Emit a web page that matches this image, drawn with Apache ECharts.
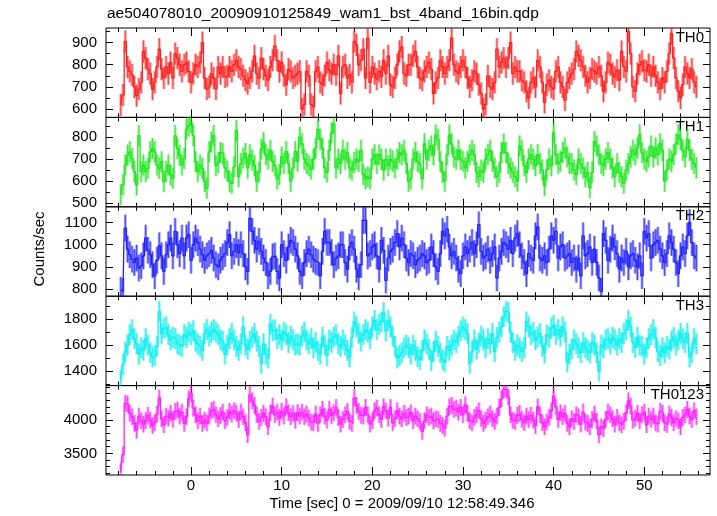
<!DOCTYPE html>
<html>
<head>
<meta charset="utf-8">
<script src="https://cdn.jsdelivr.net/npm/echarts@6/dist/echarts.min.js"></script>
<style>html,body{margin:0;padding:0;background:#fff}#c{width:717px;height:516px}</style>
</head>
<body>
<div id="c"></div>
<script>
// ---- data (counts/sec, 0.25 s bins) ----
const titleText = 'ae504078010_20090910125849_wam1_bst_4band_16bin.qdp';
const xTitle = 'Time [sec] 0 = 2009/09/10 12:58:49.346';
const yTitle = 'Counts/sec';
const panelNames = ['TH0', 'TH1', 'TH2', 'TH3', 'TH0123'];
const binStart = -7.75;   // centre of first bin (s)
const binWidth = 0.25;    // s
const errHalf = [50, 48, 60, 80, 125];

const th0 = [
 618,663,905,790,770,754,700,660,690,720,860,830,780,760,690,720,790,870,780,740,790,760,810,740,850,830,800,770,800,810,770,720,760,800,790,810,900,740,690,700,760,740,
 690,790,760,790,745,750,790,770,800,820,790,780,750,730,715,740,770,840,760,740,830,780,750,730,790,820,885,820,770,810,750,710,780,770,740,750,760,770,600,620,770,750,620,
 610,770,790,720,710,750,810,775,760,800,755,840,670,790,800,740,755,720,905,890,800,820,870,740,920,720,790,760,735,770,745,820,760,840,710,700,740,800,860,880,760,750,800,
 800,840,860,790,740,730,770,790,810,780,670,720,740,820,790,760,790,820,920,800,770,760,790,820,790,740,700,730,770,760,710,670,600,620,750,700,690,720,870,790,810,830,790,
 830,900,760,790,770,770,730,720,680,650,720,740,700,820,790,720,630,710,730,700,690,770,790,720,700,640,720,740,760,780,860,840,820,790,750,720,740,780,770,760,790,750,
 680,720,810,800,760,745,775,730,860,790,770,950,850,700,680,760,800,815,775,770,800,750,790,750,720,690,740,720,770,850,940,830,740,680,650,710,790,760,740,780,720,700
];
const th1 = [
 538,583,673,718,733,703,643,583,807,643,673,643,658,733,748,733,673,658,688,598,643,673,628,613,807,748,718,673,703,837,852,867,807,688,643,673,658,598,568,733,778,807,
 670,685,730,725,660,645,600,590,665,830,620,680,705,725,660,720,695,670,600,640,745,775,720,700,740,690,670,610,630,710,680,735,680,600,660,735,690,800,770,700,680,670,655,
 700,750,835,790,750,660,640,740,820,860,660,700,680,740,700,730,660,650,685,700,690,740,630,610,620,610,700,720,680,720,700,650,700,670,700,690,660,700,730,720,740,680,600,
 610,700,730,690,680,610,770,700,740,760,720,810,790,690,640,600,720,810,770,710,700,740,700,690,660,690,720,740,720,640,620,650,640,700,720,740,690,660,620,640,730,770,730,
 680,660,640,620,600,760,740,670,640,700,720,700,670,720,680,650,580,650,700,670,820,720,680,690,730,750,710,680,680,650,630,700,680,660,620,640,570,640,780,760,720,680,
 670,700,730,700,660,620,680,640,620,590,650,680,710,740,720,750,810,730,700,690,710,760,710,750,720,770,740,600,650,700,690,720,770,810,790,740,710,790,740,700,680,660
];
const th2 = [
 795,790,1075,980,955,935,920,940,895,905,950,1030,975,955,910,860,930,995,950,880,955,1000,1030,950,1060,1000,960,1030,950,1030,1045,930,1000,1030,1010,980,955,930,950,960,975,940,
 910,900,930,945,960,1010,1045,950,970,1000,965,1000,960,900,880,1120,1060,1020,980,1015,970,940,920,860,880,945,950,880,850,1000,960,930,990,1020,1010,980,950,880,860,920,960,980,955,
 935,925,920,860,970,1060,1010,1010,965,910,940,950,1000,1000,920,890,990,1010,980,890,855,910,1110,1110,950,960,990,1000,950,890,1020,975,840,940,970,980,1010,1050,990,1030,1000,940,920,
 960,950,910,930,940,960,950,920,930,990,960,900,880,960,1060,1040,1070,990,950,970,940,890,870,950,990,960,980,1010,960,1000,1090,970,940,950,980,930,960,990,850,940,970,1010,1000,
 980,1020,960,1030,1050,1000,950,920,870,960,940,930,1040,1080,940,930,950,920,980,1040,1020,1060,940,990,1000,940,950,960,920,940,890,940,860,1040,950,960,990,920,980,920,850,790,
 1050,1020,930,980,1030,990,960,890,940,920,970,900,950,960,930,900,950,860,1060,1030,1050,940,1000,1010,1020,980,950,920,960,1040,1010,980,920,870,950,990,960,1040,1100,1010,950,940
];
const th3 = [
 1330,1450,1550,1600,1680,1720,1650,1610,1530,1580,1560,1650,1600,1540,1510,1520,1590,1860,1690,1730,1740,1680,1640,1660,1650,1610,1600,1590,1680,1660,1700,1680,1710,1630,1610,1590,1560,1690,1720,1670,1700,1720,
 1700,1680,1640,1630,1530,1600,1650,1690,1640,1590,1560,1610,1740,1600,1570,1630,1660,1690,1630,1590,1460,1610,1530,1500,1760,1710,1720,1650,1680,1640,1700,1680,1620,1670,1640,1600,1610,1600,1670,1700,1640,1610,1650,
 1580,1620,1560,1530,1660,1600,1520,1640,1620,1660,1680,1610,1590,1640,1600,1560,1510,1660,1780,1740,1690,1630,1680,1720,1700,1650,1740,1790,1720,1760,1780,1850,1710,1790,1740,1670,1590,1500,1520,1540,1580,1600,1580,
 1530,1600,1560,1510,1490,1560,1640,1610,1570,1480,1550,1630,1590,1540,1490,1470,1590,1560,1600,1640,1620,1670,1710,1740,1720,1690,1460,1550,1640,1570,1620,1670,1640,1580,1650,1610,1690,1550,1660,1700,1740,1820,1860,
 1850,1700,1620,1560,1600,1580,1550,1580,1780,1740,1680,1700,1640,1660,1690,1590,1540,1680,1660,1730,1750,1680,1720,1670,1740,1700,1470,1530,1570,1640,1610,1580,1540,1620,1580,1560,1540,1620,1600,1540,1400,1600,
 1580,1640,1650,1610,1660,1640,1600,1650,1620,1690,1720,1790,1740,1620,1580,1660,1600,1590,1530,1580,1650,1680,1720,1660,1550,1520,1580,1540,1590,1570,1630,1660,1600,1640,1690,1650,1620,1690,1510,1540,1650,1610
];
const th0123 = [
 3230,3480,4250,4240,4100,4050,3950,3850,4060,3990,3940,3990,4070,4000,3920,3960,4090,4330,4020,3930,4060,4030,4100,4010,4130,4150,4060,4120,3950,4050,4320,4400,4180,4080,3990,4060,3950,4000,3960,4060,4140,4160,
 4080,4020,4070,4120,3990,4040,4130,4090,4140,4100,4010,4120,4050,3960,3780,4380,4290,4220,4080,3980,4040,4100,4050,3900,4110,4210,4080,4120,4040,4130,4060,4200,4110,4050,4100,4000,4110,4060,4120,4050,4090,4030,3970,
 3960,4090,3950,4080,4160,4060,4000,4160,4070,4110,4190,4040,3940,4010,4080,4130,3980,3950,4330,4220,4130,4070,4060,4190,4080,3940,3990,4140,4180,4080,4010,4200,4140,4030,4190,3960,4020,4140,4060,4020,4100,4040,4060,
 4110,3990,4060,4020,3980,3830,3990,4080,4040,4060,3990,4020,4010,3950,3920,3880,4060,4200,4220,4160,4180,4120,4190,4080,4230,4100,3990,3960,4040,4080,4140,4020,3950,4000,4050,4090,4020,3980,4060,4190,4320,4460,4450,
 4350,4080,4000,3980,4070,4100,4010,3960,4060,4010,4070,4000,3920,4200,4080,3960,3900,3970,4040,4140,4360,4200,4010,4110,4050,4100,3950,3900,4020,3980,4080,4050,3940,4120,3970,3950,3900,4010,4090,3990,3780,3900,
 3870,4010,4120,4080,4020,3940,4040,3960,3930,3980,4110,4290,4210,4000,4030,4100,3990,4080,4120,3930,4060,4010,4060,3960,3940,4130,4100,3960,3930,4090,4040,3960,4020,3990,3900,4040,4080,4160,4060,4010,4140,4050
];
const panelValues = [th0, th1, th2, th3, th0123];

// axis ranges and tick values
const xRange = [-9.38, 57.25];
const xMajorTicks = [0, 10, 20, 30, 40, 50];
const xMinorTicks = [-8,-6,-4,-2,0,2,4,6,8,10,12,14,16,18,20,22,24,26,28,30,32,34,36,38,40,42,44,46,48,50,52,54,56];
const yRanges = [[562, 966], [483, 890], [768, 1171], [1288, 1977], [3175, 4518]];
const yMajorTicks = [[600,700,800,900],[500,600,700,800],[800,900,1000,1100],[1400,1600,1800],[3500,4000]];
const yMinorTicks = [
 [600,650,700,750,800,850,900,950],
 [500,550,600,650,700,750,800,850],
 [800,850,900,950,1000,1050,1100,1150],
 [1300,1400,1500,1600,1700,1800,1900],
 [3200,3300,3400,3500,3600,3700,3800,3900,4000,4100,4200,4300,4400,4500]
];
const colors = ['#ff2020', '#20e620', '#2020ff', '#10f0f0', '#ff20ff'];
const lightColors = ['rgba(255,0,0,0.38)', 'rgba(0,225,0,0.38)', 'rgba(0,0,255,0.38)', 'rgba(0,235,235,0.45)', 'rgba(255,0,255,0.38)'];

// ---- layout ----
const FONT = '"Liberation Sans", Helvetica, Arial, sans-serif';
const PLOT_LEFT = 106, PLOT_WIDTH = 604, PLOT_TOP = 28, PANEL_H = 89.4;
const plainNum = v => String(v);

const chart = echarts.init(document.getElementById('c'), null, {renderer: 'canvas'});

const grids = [], xAxes = [], yAxes = [], series = [], graphics = [];
for (let g = 0; g < 5; g++) {
  const top = PLOT_TOP + g * PANEL_H;
  grids.push({left: PLOT_LEFT, width: PLOT_WIDTH, top: top, height: PANEL_H,
    show: true, borderColor: '#000', borderWidth: 1, backgroundColor: 'transparent'});

  const tickStyle = {color: '#000', width: 1};
  const xBase = {type: 'value', gridIndex: g, min: xRange[0], max: xRange[1],
    axisLine: {show: false, onZero: false}, splitLine: {show: false}, axisLabel: {show: false}};
  xAxes.push(Object.assign({}, xBase, {position: 'bottom',
    axisTick: {show: true, inside: true, length: 8, customValues: xMajorTicks, lineStyle: tickStyle},
    axisLabel: g === 4 ? {show: true, customValues: xMajorTicks, margin: 3, color: '#000',
      fontFamily: FONT, fontSize: 15, formatter: plainNum} : {show: false}}));
  xAxes.push(Object.assign({}, xBase, {position: 'bottom',
    axisTick: {show: true, inside: true, length: 4, customValues: xMinorTicks, lineStyle: tickStyle}}));
  xAxes.push(Object.assign({}, xBase, {position: 'top',
    axisTick: {show: true, inside: true, length: 8, customValues: xMajorTicks, lineStyle: tickStyle}}));
  xAxes.push(Object.assign({}, xBase, {position: 'top',
    axisTick: {show: true, inside: true, length: 4, customValues: xMinorTicks, lineStyle: tickStyle}}));

  const yBase = {type: 'value', gridIndex: g, min: yRanges[g][0], max: yRanges[g][1],
    axisLine: {show: false, onZero: false}, splitLine: {show: false}, axisLabel: {show: false}};
  yAxes.push(Object.assign({}, yBase, {position: 'left',
    axisTick: {show: true, inside: true, length: 7, customValues: yMajorTicks[g], lineStyle: tickStyle},
    axisLabel: {show: true, customValues: yMajorTicks[g], margin: 9, color: '#000', fontFamily: FONT,
      fontSize: 15, formatter: plainNum}}));
  yAxes.push(Object.assign({}, yBase, {position: 'left',
    axisTick: {show: true, inside: true, length: 4, customValues: yMinorTicks[g], lineStyle: tickStyle}}));
  yAxes.push(Object.assign({}, yBase, {position: 'right',
    axisTick: {show: true, inside: true, length: 7, customValues: yMajorTicks[g], lineStyle: tickStyle}}));
  yAxes.push(Object.assign({}, yBase, {position: 'right',
    axisTick: {show: true, inside: true, length: 4, customValues: yMinorTicks[g], lineStyle: tickStyle}}));

  const vals = panelValues[g];
  const data = vals.map((v, i) => [binStart + i * binWidth, v]);
  const err = errHalf[g], col = colors[g], light = lightColors[g];
  // error bars (vertical) + bin-width bars (horizontal)
  series.push({
    type: 'custom', name: panelNames[g] + ' err', xAxisIndex: g * 4, yAxisIndex: g * 4,
    clip: true, silent: true, animation: false,
    data: data,
    renderItem: function (params, api) {
      const t = api.value(0), v = api.value(1);
      const hi = api.coord([t, v + err]);
      const lo = api.coord([t, v - err]);
      return {type: 'group', children: [
        {type: 'line', shape: {x1: hi[0], y1: hi[1], x2: lo[0], y2: lo[1]}, style: {stroke: light, lineWidth: 2.8}},
        {type: 'line', shape: {x1: hi[0], y1: hi[1], x2: lo[0], y2: lo[1]}, style: {stroke: col, lineWidth: 1, opacity: 0.75}}
      ]};
    }
  });
  // connected step trace through the bins
  series.push({
    type: 'line', name: panelNames[g], xAxisIndex: g * 4, yAxisIndex: g * 4,
    data: data, step: 'middle', showSymbol: false, symbol: 'none', clip: true, silent: true,
    animation: false, lineStyle: {color: col, width: 1.3}
  });

  graphics.push({type: 'text', right: 717 - 704, top: top + 2,
    style: {text: panelNames[g], font: '15px ' + FONT, fill: '#000', textAlign: 'right'}});
}

graphics.push({type: 'text', left: 107, top: 6,
  style: {text: titleText, font: '15.5px ' + FONT, fill: '#000'}});
graphics.push({type: 'text', x: 402, y: 504,
  style: {text: xTitle, font: '15px ' + FONT, fill: '#000', textAlign: 'center', textVerticalAlign: 'middle'}});
graphics.push({type: 'text', x: 40, y: 249, rotation: Math.PI / 2,
  style: {text: yTitle, font: '15px ' + FONT, fill: '#000', textAlign: 'center', textVerticalAlign: 'middle'}});

chart.setOption({
  animation: false,
  backgroundColor: '#fff',
  grid: grids,
  xAxis: xAxes,
  yAxis: yAxes,
  series: series,
  graphic: graphics
});
</script>
</body>
</html>
